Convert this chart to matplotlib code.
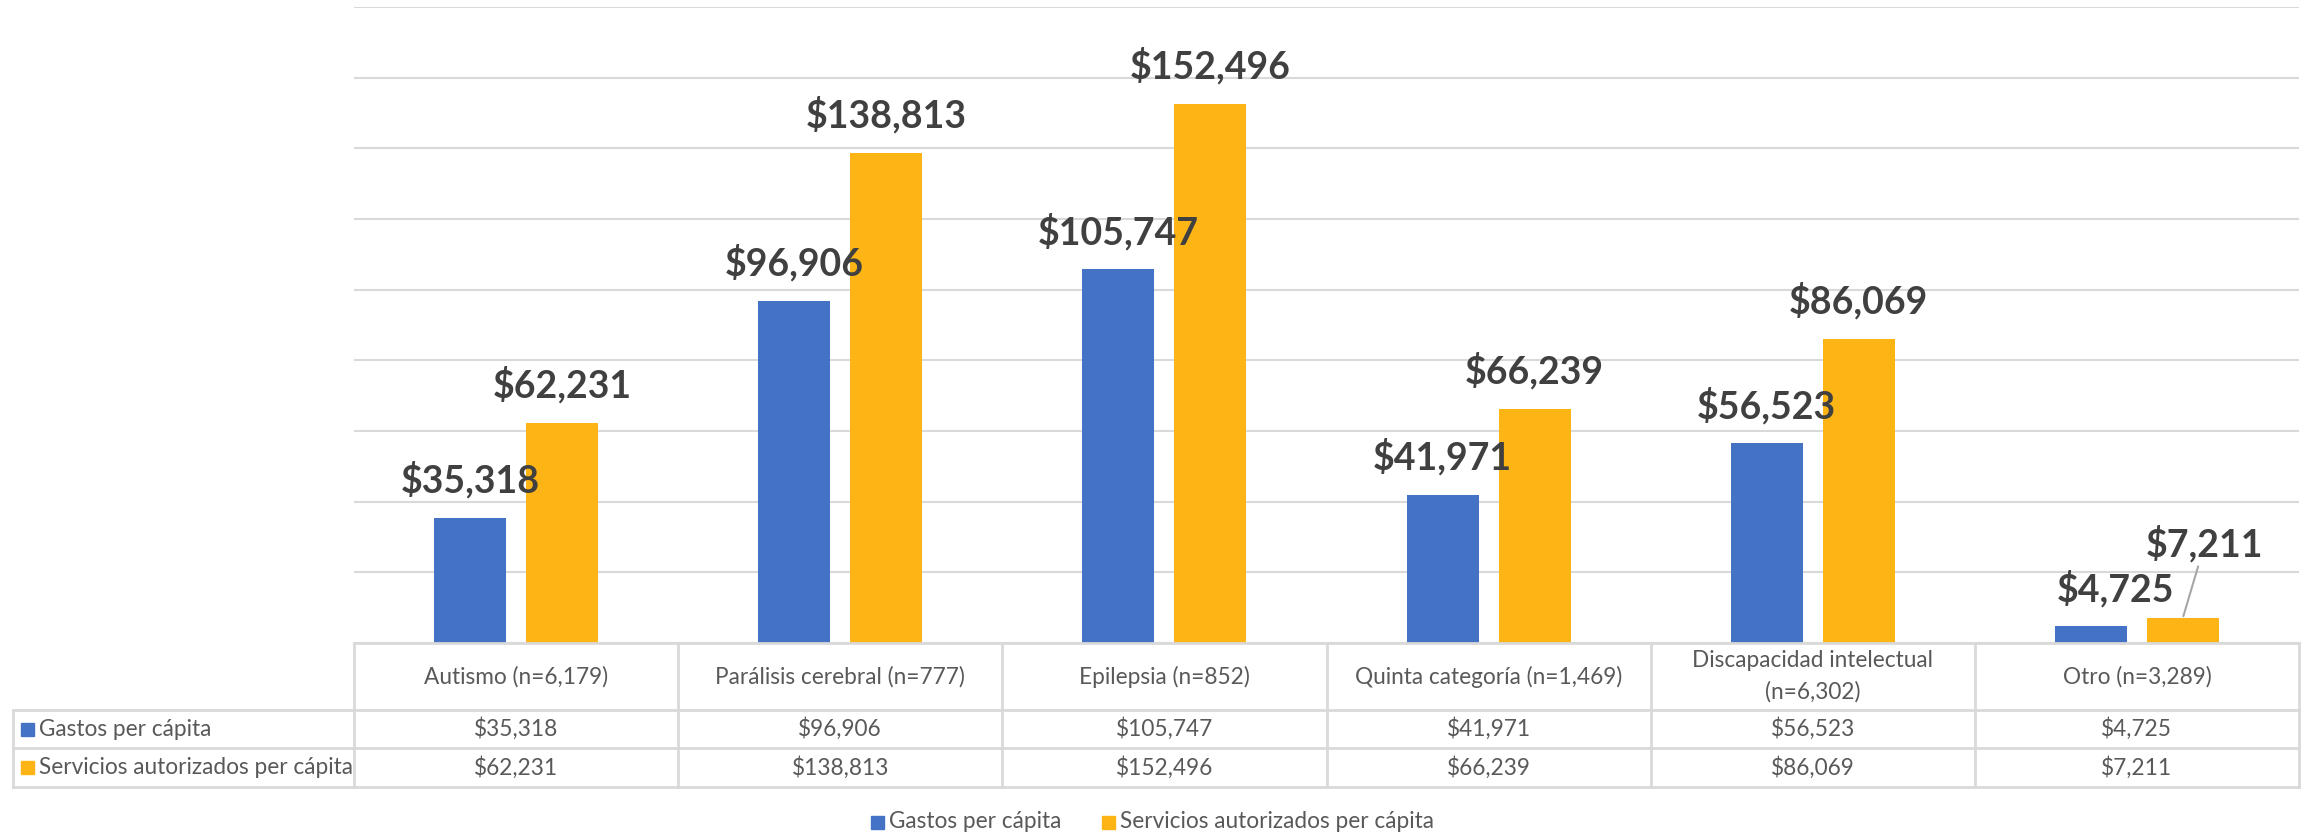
import matplotlib.pyplot as plt
import matplotlib.patches as mpatches

categories = ['Autismo (n=6,179)', 'Parálisis cerebral (n=777)', 'Epilepsia (n=852)',
              'Quinta categoría (n=1,469)', 'Discapacidad intelectual\n(n=6,302)', 'Otro (n=3,289)']
series_names = ['Gastos per cápita', 'Servicios autorizados per cápita']
gastos = [35318, 96906, 105747, 41971, 56523, 4725]
servicios = [62231, 138813, 152496, 66239, 86069, 7211]
colors = ['#4472C4', '#FDB515']

W, H = 2303, 836
plt.rcParams['font.family'] = ['Lato', 'DejaVu Sans']
fig = plt.figure(figsize=(W / 100, H / 100), dpi=100)

# plot area in pixels
left, right, base, top = 354, 2299, 643, 7
ax = fig.add_axes([left / W, (H - base) / H, (right - left) / W, (base - top) / H])
ax.set_xlim(-0.5, len(categories) - 0.5)
ax.set_ylim(0, 180000)
ax.set_yticks(range(0, 180001, 20000))
ax.grid(axis='y', color='#d9d9d9', linewidth=1.5)
ax.set_axisbelow(True)
for s in ax.spines.values():
    s.set_visible(False)
ax.tick_params(left=False, bottom=False, labelleft=False, labelbottom=False)

x = list(range(len(categories)))
bw = 0.222
off = 0.142
ax.bar([i - off for i in x], gastos, width=bw, color=colors[0])
ax.bar([i + off for i in x], servicios, width=bw, color=colors[1])

lab_kw = dict(textcoords='offset pixels', ha='center', va='center',
              fontsize=27, fontweight='bold', color='#404040')
for i, v in enumerate(gastos):
    dx = 25 if i == len(gastos) - 1 else 0
    ax.annotate(f'${v:,}', (i - off, v), xytext=(dx, 38), **lab_kw)
for i, v in enumerate(servicios):
    if i == len(servicios) - 1:
        # small bar: label pushed up with a leader line
        ax.annotate(f'${v:,}', (i + off, v), xytext=(22, 74),
                    arrowprops=dict(arrowstyle='-', color='#a6a6a6', lw=1.5,
                                    shrinkA=1, shrinkB=1), **lab_kw)
    else:
        ax.annotate(f'${v:,}', (i + off, v), xytext=(0, 38), **lab_kw)

# data table drawn on a pixel overlay
ov = fig.add_axes([0, 0, 1, 1])
ov.set_xlim(0, W)
ov.set_ylim(H, 0)
ov.axis('off')
lc = '#d9d9d9'
tc = '#595959'
fs = 16.3
tleft = 13
rows_y = [643, 710, 748, 787]
colw = (right - left) / len(categories)
col_x = [left + k * colw for k in range(len(categories) + 1)]

ov.plot([left, right], [rows_y[0]] * 2, color=lc, lw=2)
for yy in rows_y[1:]:
    ov.plot([tleft, right], [yy, yy], color=lc, lw=2)
for cx in col_x:
    ov.plot([cx, cx], [rows_y[0], rows_y[3]], color=lc, lw=2)
ov.plot([tleft, tleft], [rows_y[1], rows_y[3]], color=lc, lw=2)

for k, c in enumerate(categories):
    ov.text(col_x[k] + colw / 2, (rows_y[0] + rows_y[1]) / 2, c, ha='center', va='center',
            fontsize=fs, color=tc, linespacing=1.55)
for r, (vals, name, col) in enumerate(zip([gastos, servicios], series_names, colors)):
    yc = (rows_y[r + 1] + rows_y[r + 2]) / 2
    ov.add_patch(mpatches.Rectangle((21, yc - 6.5), 13, 13, color=col))
    ov.text(39, yc, name, ha='left', va='center', fontsize=fs, color=tc)
    for k, v in enumerate(vals):
        ov.text(col_x[k] + colw / 2, yc, f'${v:,}', ha='center', va='center',
                fontsize=fs, color=tc)

# legend
ly = 822
ov.add_patch(mpatches.Rectangle((871, ly - 6.5), 13, 13, color=colors[0]))
ov.text(889, ly, series_names[0], ha='left', va='center', fontsize=fs, color=tc)
ov.add_patch(mpatches.Rectangle((1102, ly - 6.5), 13, 13, color=colors[1]))
ov.text(1120, ly, series_names[1], ha='left', va='center', fontsize=fs, color=tc)

fig.savefig('out.png', dpi=100, facecolor='white')
